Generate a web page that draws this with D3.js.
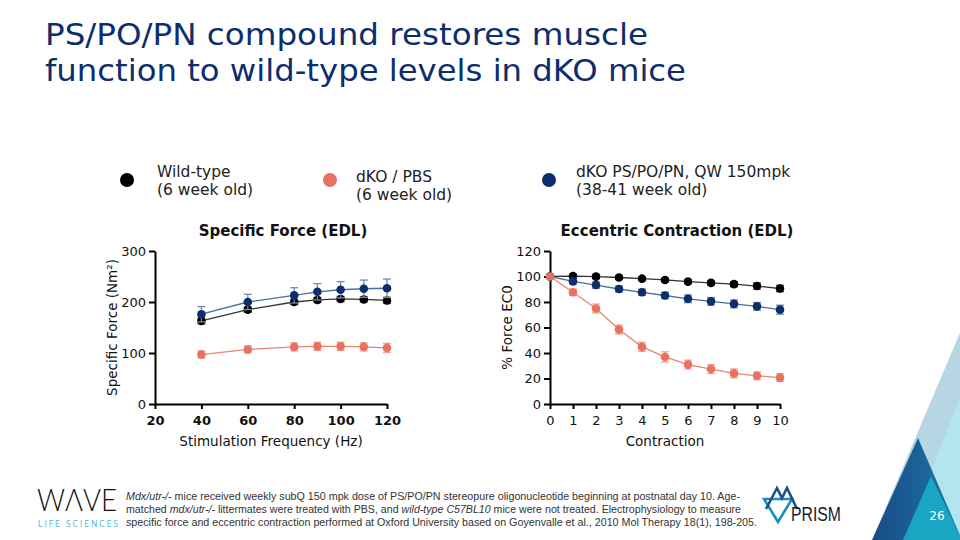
<!DOCTYPE html>
<html>
<head>
<meta charset="utf-8">
<script src="https://cdn.jsdelivr.net/npm/d3@7"></script>
<style>
  body { margin: 0; background: #fff; }
  svg { display: block; font-family: "DejaVu Sans", Verdana, sans-serif; }
</style>
</head>
<body>
<svg id="slide" width="960" height="540"></svg>
<script>
// ---- data ----
var groups = ["Wild-type", "dKO / PBS", "dKO PS/PO/PN, QW 150mpk"];
var groupSub = ["(6 week old)", "(6 week old)", "(38-41 week old)"];

var freqs = [40, 60, 80, 90, 100, 110, 120];
var sfWt = [163, 185, 200, 204, 206, 205, 203];
var sfWtErr = [6, 5, 5, 5, 5, 5, 6];
var sfKo = [97, 107, 112, 113, 113, 112, 110];
var sfKoErr = [7, 7, 8, 8, 8, 8, 9];
var sfTx = [176, 200, 213, 220, 224, 226, 227];
var sfTxErr = [15, 15, 15, 16, 16, 17, 18];

var contractions = [0, 1, 2, 3, 4, 5, 6, 7, 8, 9, 10];
var ecWt = [100, 100.3, 99.9, 99.2, 98.3, 97.3, 96, 95, 94, 92.5, 90.6];
var ecWtErr = [0, 1.5, 1.5, 1.5, 1.5, 1.5, 1.5, 1.5, 2, 2.5, 2.5];
var ecKo = [100, 87.6, 74.9, 58.4, 44.8, 36.9, 30.9, 27.4, 24, 22.1, 20.7];
var ecKoErr = [0, 2.5, 3.5, 3.5, 3.5, 4, 3.5, 3.5, 3.5, 3, 3];
var ecTx = [100, 96.2, 93.3, 90.2, 87.6, 85.1, 82.5, 80.5, 78.5, 76.6, 74];
var ecTxErr = [0, 2, 2.5, 2.5, 2.5, 2.5, 3, 3, 3, 3, 3.5];

var sfXTicks = [20, 40, 60, 80, 100, 120];
var sfYTicks = [0, 100, 200, 300];
var ecXTicks = contractions;
var ecYTicks = [0, 20, 40, 60, 80, 100, 120];

var markColor = ["#000000", "#e8725f", "#0c2e6c"];
var lineColor = ["#333333", "#e98373", "#4d6e9c"];
var errColor = ["#555555", "#eea496", "#6f8bb4"];

var svg = d3.select("#slide");

// ---- decorative corner triangles ----
var deco = svg.append("g");
deco.append("path").attr("d", "M962,328 L872,540 L962,540 Z").attr("fill", "#b6d6e4");
deco.append("path").attr("d", "M962,392 L905,540 L962,540 Z").attr("fill", "#b2e6ef");
var defs = svg.append("defs");
var grad = defs.append("linearGradient").attr("id", "dk")
  .attr("x1", "0").attr("y1", "0").attr("x2", "1").attr("y2", "0");
grad.append("stop").attr("offset", "0").attr("stop-color", "#1b4b86");
grad.append("stop").attr("offset", "1").attr("stop-color", "#1a77a8");
deco.append("path").attr("d", "M918,438 L872,540 L962,540 Z").attr("fill", "url(#dk)");
deco.append("path").attr("d", "M931,476 L903,540 L962,540 Z").attr("fill", "#18a6c2");
svg.append("text").attr("x", 937).attr("y", 520).attr("text-anchor", "middle")
  .attr("fill", "#ffffff").attr("font-size", 12).text("26");

// ---- title ----
var title = svg.append("g").attr("fill", "#0c2e6c").attr("font-size", 30);
title.append("text").attr("x", 45).attr("y", 45)
  .attr("textLength", 603).attr("lengthAdjust", "spacingAndGlyphs")
  .text("PS/PO/PN compound restores muscle");
title.append("text").attr("x", 45).attr("y", 81)
  .attr("textLength", 641).attr("lengthAdjust", "spacingAndGlyphs")
  .text("function to wild-type levels in dKO mice");

// ---- legend ----
var legX = [127, 330, 549];
var legTextX = [157, 356, 576];
var legDy = [0, 5, 0];
var leg = svg.append("g").attr("font-size", 15.5).attr("fill", "#222");
groups.forEach(function(g, i) {
  leg.append("circle").attr("cx", legX[i]).attr("cy", 180).attr("r", 7).attr("fill", markColor[i]);
  leg.append("text").attr("x", legTextX[i]).attr("y", 177 + legDy[i]).text(g);
  leg.append("text").attr("x", legTextX[i]).attr("y", 195 + legDy[i]).text(groupSub[i]);
});

// ---- chart builder ----
function drawChart(opts) {
  var g = svg.append("g");
  var x = d3.scaleLinear().domain(opts.xDomain).range([opts.left, opts.right]);
  var y = d3.scaleLinear().domain(opts.yDomain).range([opts.bottom, opts.top]);

  g.append("text").attr("x", opts.titleX).attr("y", 236).attr("text-anchor", "middle")
    .attr("font-size", 15).attr("font-weight", "bold").attr("fill", "#111").text(opts.title);

  var xa = g.append("g").attr("transform", "translate(0," + opts.bottom + ")")
    .call(d3.axisBottom(x).tickValues(opts.xTicks).tickSize(5).tickPadding(7).tickSizeOuter(0));
  var ya = g.append("g").attr("transform", "translate(" + opts.left + ",0)")
    .call(d3.axisLeft(y).tickValues(opts.yTicks).tickSize(6).tickPadding(3).tickSizeOuter(0));
  [xa, ya].forEach(function(a) {
    a.select(".domain").attr("stroke", "#000").attr("stroke-width", 2);
    a.selectAll(".tick line").attr("stroke", "#000").attr("stroke-width", 2);
    a.selectAll("text").attr("font-family", "DejaVu Sans, sans-serif").attr("font-size", 13).attr("fill", "#111");
  });
  if (opts.boldX) xa.selectAll("text").attr("font-weight", "bold");

  g.append("text").attr("x", (opts.left + opts.right) / 2).attr("y", 446)
    .attr("text-anchor", "middle").attr("font-size", 13.5).attr("fill", "#111").text(opts.xLabel);
  g.append("text").attr("transform", "translate(" + opts.yLabelX + "," + ((opts.top + opts.bottom) / 2) + ") rotate(-90)")
    .attr("text-anchor", "middle").attr("font-size", 13.5).attr("fill", "#111").text(opts.yLabel);

  var line = d3.line().x(function(d) { return x(d[0]); }).y(function(d) { return y(d[1]); });
  opts.series.forEach(function(s) {
    var pts = opts.xs.map(function(v, j) { return [v, s.vals[j], s.err[j]]; });
    var sg = g.append("g");
    sg.append("path").datum(pts).attr("d", line).attr("fill", "none")
      .attr("stroke", lineColor[s.c]).attr("stroke-width", 1.3);
    pts.forEach(function(p) {
      if (p[2] <= 0) return;
      var cx = x(p[0]), y1 = y(p[1] + p[2]), y2 = y(p[1] - p[2]);
      sg.append("line").attr("x1", cx).attr("x2", cx).attr("y1", y1).attr("y2", y2)
        .attr("stroke", errColor[s.c]).attr("stroke-width", 1.3);
      [y1, y2].forEach(function(yy) {
        sg.append("line").attr("x1", cx - 4).attr("x2", cx + 4).attr("y1", yy).attr("y2", yy)
          .attr("stroke", errColor[s.c]).attr("stroke-width", 1.3);
      });
    });
    sg.selectAll("circle").data(pts).enter().append("circle")
      .attr("cx", function(d) { return x(d[0]); })
      .attr("cy", function(d) { return y(d[1]); })
      .attr("r", 4.3).attr("fill", markColor[s.c]);
  });
}

drawChart({
  title: "Specific Force (EDL)", titleX: 283,
  left: 155, right: 387, top: 251, bottom: 404,
  xDomain: [20, 120], yDomain: [0, 300],
  xTicks: sfXTicks, yTicks: sfYTicks, boldX: true,
  xLabel: "Stimulation Frequency (Hz)", yLabel: "Specific Force (Nm\u00B2)", yLabelX: 117,
  xs: freqs,
  series: [
    { vals: sfKo, err: sfKoErr, c: 1 },
    { vals: sfWt, err: sfWtErr, c: 0 },
    { vals: sfTx, err: sfTxErr, c: 2 }
  ]
});

drawChart({
  title: "Eccentric Contraction (EDL)", titleX: 677,
  left: 550, right: 780, top: 251, bottom: 404,
  xDomain: [0, 10], yDomain: [0, 120],
  xTicks: ecXTicks, yTicks: ecYTicks, boldX: false,
  xLabel: "Contraction", yLabel: "% Force EC0", yLabelX: 512,
  xs: contractions,
  series: [
    { vals: ecWt, err: ecWtErr, c: 0 },
    { vals: ecTx, err: ecTxErr, c: 2 },
    { vals: ecKo, err: ecKoErr, c: 1 }
  ]
});

// ---- footnote ----
var fn = svg.append("g").attr("font-family", "'Liberation Sans Narrow', 'Liberation Sans', sans-serif")
  .attr("font-size", 10.5).attr("fill", "#333");
var l1 = fn.append("text").attr("x", 126).attr("y", 500).attr("textLength", 614).attr("lengthAdjust", "spacingAndGlyphs");
l1.append("tspan").attr("font-style", "italic").text("Mdx/utr-/-");
l1.append("tspan").text(" mice received weekly subQ 150 mpk dose of PS/PO/PN stereopure oligonucleotide beginning at postnatal day 10. Age-");
var l2 = fn.append("text").attr("x", 126).attr("y", 513).attr("textLength", 615).attr("lengthAdjust", "spacingAndGlyphs");
l2.append("tspan").text("matched ");
l2.append("tspan").attr("font-style", "italic").text("mdx/utr-/-");
l2.append("tspan").text(" littermates were treated with PBS, and ");
l2.append("tspan").attr("font-style", "italic").text("wild-type C57BL10");
l2.append("tspan").text(" mice were not treated. Electrophysiology to measure");
fn.append("text").attr("x", 126).attr("y", 526).attr("textLength", 631).attr("lengthAdjust", "spacingAndGlyphs")
  .text("specific force and eccentric contraction performed at Oxford University based on Goyenvalle et al., 2010 Mol Therapy 18(1), 198-205.");

// ---- logos ----
svg.append("text").attr("x", 37).attr("y", 511).attr("font-family", "Lato, 'Open Sans', sans-serif")
  .attr("font-weight", 300).attr("font-size", 31).attr("fill", "#111")
  .attr("textLength", 80).attr("lengthAdjust", "spacingAndGlyphs").text("W\u039BVE");
svg.append("text").attr("x", 38).attr("y", 527).attr("font-family", "'Open Sans', sans-serif")
  .attr("font-size", 8.5).attr("fill", "#4fb3d6")
  .attr("textLength", 80).attr("lengthAdjust", "spacing").text("LIFE SCIENCES");

var prism = svg.append("g").attr("fill", "none").attr("stroke-width", 2.6).attr("stroke-linejoin", "miter");
prism.append("path").attr("d", "M764,499 L792,499 L778,522 Z").attr("stroke", "#1b8fc0");
prism.append("path").attr("d", "M766,509 L777,488 L782,498 L787,488 L797,509").attr("stroke", "#1c4f8f");
svg.append("text").attr("x", 791).attr("y", 521).attr("font-family", "'Liberation Sans Narrow', 'Liberation Sans', sans-serif")
  .attr("font-size", 20).attr("fill", "#1a1a2e").attr("textLength", 50).attr("lengthAdjust", "spacingAndGlyphs").text("PRISM");
</script>
</body>
</html>
